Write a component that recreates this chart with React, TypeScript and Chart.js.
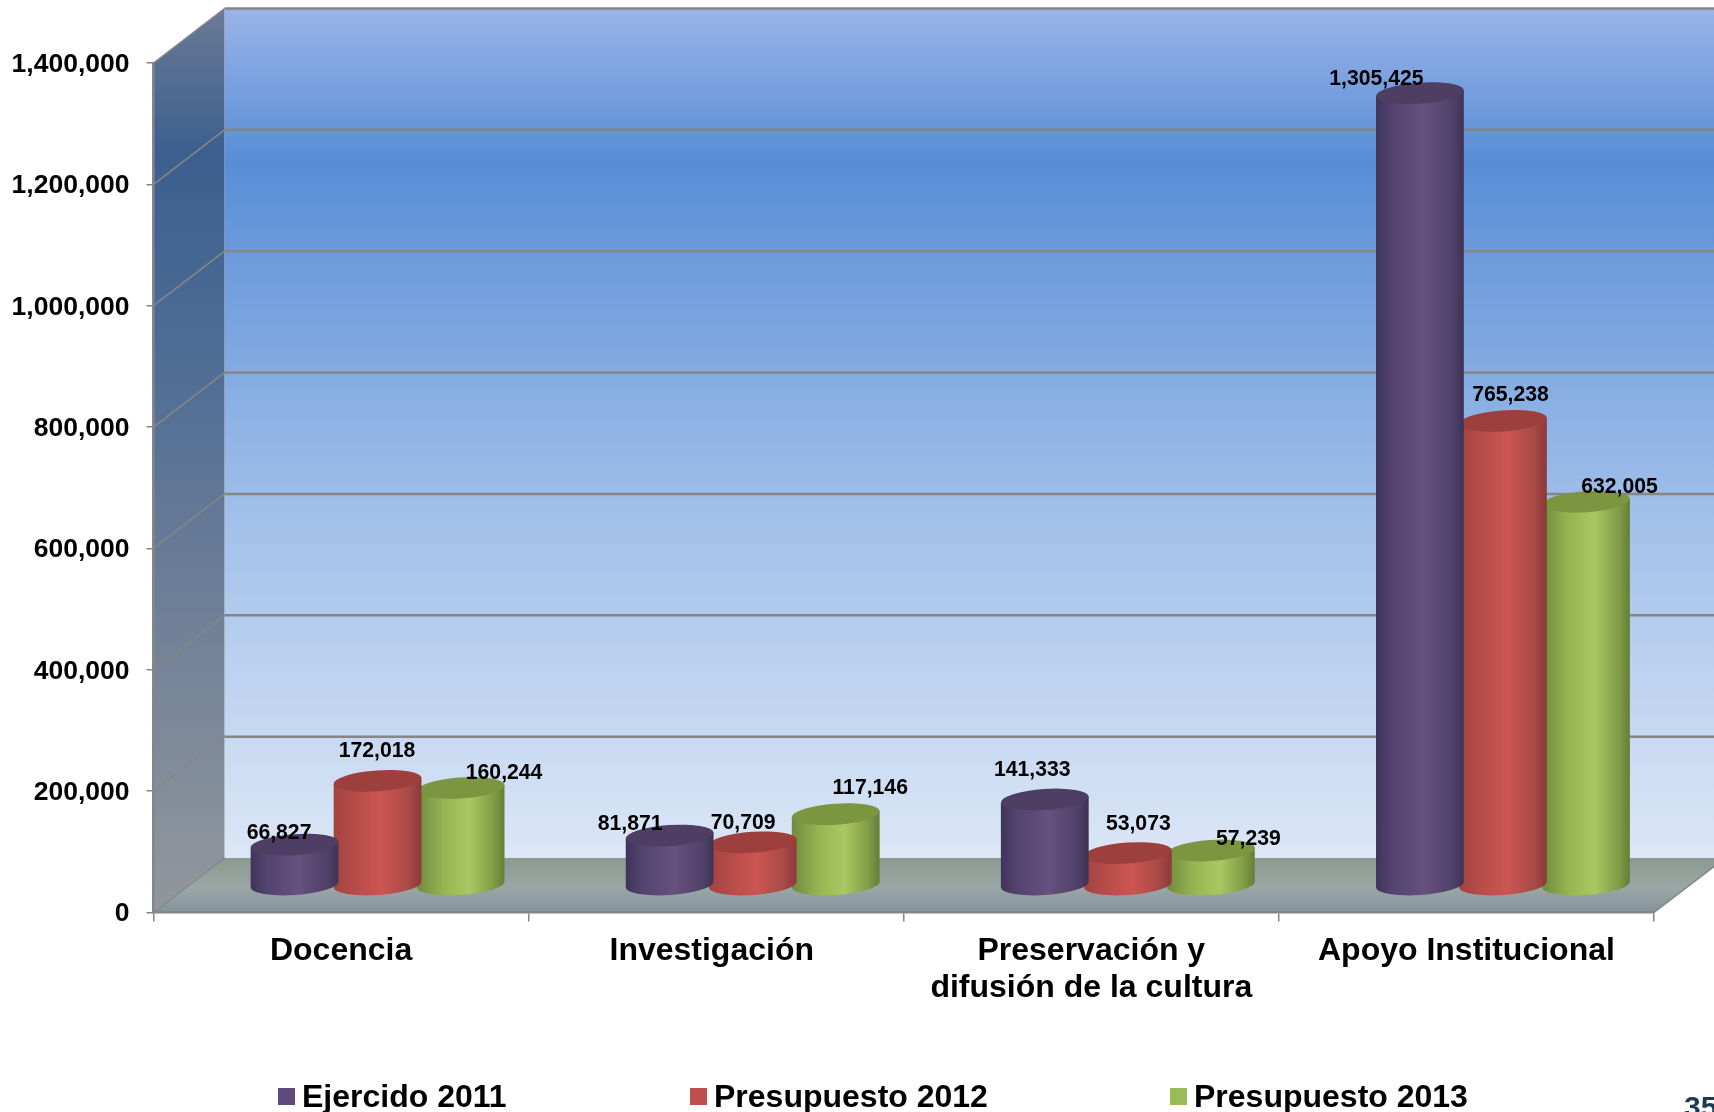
import React, { useEffect, useRef } from "react";
import { Chart, registerables, BarController, BarElement } from "chart.js";

Chart.register(...registerables);

const categories: (string | string[])[] = [
  "Docencia",
  "Investigación",
  ["Preservación y", "difusión de la cultura"],
  "Apoyo Institucional",
];
const ejercido2011 = [66827, 81871, 141333, 1305425];
const presupuesto2012 = [172018, 70709, 53073, 765238];
const presupuesto2013 = [160244, 117146, 57239, 632005];
const seriesLabels = ["Ejercido 2011", "Presupuesto 2012", "Presupuesto 2013"];
const seriesColors = ["#604a7b", "#c0504d", "#9bbb59"];
const yTickStep = 200000;
const yMax = 1400000;
const pageNumber = "35";

// label nudges (style, not data), relative to the top centre of each cylinder
const labelNudges = [
  [[-15.5, -12], [-39.5, -11], [-12.5, -29], [-43.5, -14]],
  [[-0.5, -30], [-9.5, -19], [10.5, -29], [7.5, -26]],
  [[43.5, -15], [34.5, -26], [37.5, -11], [33.5, -15]],
];

const FONT = '"Liberation Sans", Arial, sans-serif';
const DEPTH_X = 71;
const DEPTH_Y = 54.5;
const MID_X = DEPTH_X / 2 + 1;
const MID_Y = DEPTH_Y / 2;
const LINE = "#868686";

const cylStyles: Record<string, { stops: [number, string][]; top: string }> = {
  "#604a7b": {
    stops: [[0, "#40345a"], [0.18, "#53436f"], [0.55, "#66517f"], [0.88, "#4f4069"], [1, "#3e3254"]],
    top: "#4e3e63",
  },
  "#c0504d": {
    stops: [[0, "#a24341"], [0.3, "#bb4e4b"], [0.55, "#cc5552"], [0.85, "#a94a47"], [1, "#8b3a38"]],
    top: "#9d403d",
  },
  "#9bbb59": {
    stops: [[0, "#6f8a3e"], [0.3, "#95b553"], [0.6, "#a8c961"], [0.88, "#809b46"], [1, "#647e38"]],
    top: "#7b9541",
  },
};

class CylinderElement extends (BarElement as any) {
  static id = "cylinderBar";
  draw(ctx: CanvasRenderingContext2D) {
    const { x, y, base, width } = (this as any).getProps(["x", "y", "base", "width"]);
    const style = cylStyles[(this as any).options.backgroundColor] || cylStyles["#604a7b"];
    const cx = x + MID_X;
    const topY = y - MID_Y;
    const botY = base - MID_Y;
    const rx = width * 0.53;
    const ry = 10.5;
    const rot = -0.07;
    const ex = rx * Math.cos(rot);
    const ey = rx * Math.sin(rot);
    const grad = ctx.createLinearGradient(cx - ex, 0, cx + ex, 0);
    style.stops.forEach(([o, c]) => grad.addColorStop(o, c));
    ctx.save();
    ctx.beginPath();
    ctx.moveTo(cx - ex, topY - ey);
    ctx.lineTo(cx - ex, botY - ey);
    ctx.ellipse(cx, botY, rx, ry, rot, Math.PI, 0, true);
    ctx.lineTo(cx + ex, topY + ey);
    ctx.closePath();
    ctx.fillStyle = grad;
    ctx.fill();
    ctx.beginPath();
    ctx.ellipse(cx, topY, rx, ry, rot, 0, Math.PI * 2);
    ctx.fillStyle = style.top;
    ctx.fill();
    ctx.restore();
  }
}

class CylinderController extends (BarController as any) {
  static id = "cylinder";
  static defaults = { ...(BarController as any).defaults, dataElementType: "cylinderBar" };
  static overrides = (BarController as any).overrides;
}

Chart.register(CylinderElement as any, CylinderController as any);

const wallsPlugin = {
  id: "walls",
  beforeDraw(chart: any) {
    const { ctx, chartArea: a, scales } = chart;
    const W = chart.width;
    const yScale = scales.y;
    const backL = a.left + DEPTH_X;
    const backTop = a.top - DEPTH_Y;
    const backBot = a.bottom - DEPTH_Y;
    ctx.save();

    const wall = ctx.createLinearGradient(0, backTop, 0, backBot);
    wall.addColorStop(0, "#9ab4e8");
    wall.addColorStop(0.18, "#588dd6");
    wall.addColorStop(0.6, "#a2c0ea");
    wall.addColorStop(1, "#dce7f6");
    ctx.fillStyle = wall;
    ctx.fillRect(backL, backTop, W - backL, backBot - backTop);

    const side = ctx.createLinearGradient(0, backTop, 0, a.bottom);
    side.addColorStop(0, "#6a7a96");
    side.addColorStop(0.16, "#3c5f8f");
    side.addColorStop(0.38, "#4e6c95");
    side.addColorStop(0.6, "#677b96");
    side.addColorStop(0.88, "#858f9b");
    side.addColorStop(1, "#93979c");
    ctx.fillStyle = side;
    ctx.beginPath();
    ctx.moveTo(a.left, a.top);
    ctx.lineTo(backL, backTop);
    ctx.lineTo(backL, backBot);
    ctx.lineTo(a.left, a.bottom);
    ctx.closePath();
    ctx.fill();

    const floor = ctx.createLinearGradient(0, backBot, 0, a.bottom);
    floor.addColorStop(0, "#8c9a8f");
    floor.addColorStop(0.55, "#9aa7a7");
    floor.addColorStop(1, "#84929c");
    ctx.fillStyle = floor;
    ctx.beginPath();
    ctx.moveTo(a.left, a.bottom);
    ctx.lineTo(backL, backBot);
    ctx.lineTo(a.right + DEPTH_X, backBot);
    ctx.lineTo(a.right, a.bottom);
    ctx.closePath();
    ctx.fill();

    ctx.strokeStyle = LINE;
    yScale.ticks.forEach((t: any) => {
      const py = yScale.getPixelForValue(t.value);
      if (t.value !== 0) {
        ctx.lineWidth = 2.5;
        ctx.beginPath();
        ctx.moveTo(backL, py - DEPTH_Y);
        ctx.lineTo(W, py - DEPTH_Y);
        ctx.stroke();
      }
      ctx.lineWidth = 1.5;
      ctx.beginPath();
      ctx.moveTo(a.left, py);
      ctx.lineTo(backL, py - DEPTH_Y);
      ctx.stroke();
    });

    ctx.lineWidth = 1.5;
    ctx.beginPath();
    ctx.moveTo(a.right, a.bottom);
    ctx.lineTo(a.right + DEPTH_X, backBot);
    ctx.stroke();
    ctx.restore();
  },
};

const overlayPlugin = {
  id: "overlay",
  afterDatasetsDraw(chart: any) {
    const { ctx } = chart;
    ctx.save();
    ctx.font = `bold 21.2px ${FONT}`;
    ctx.fillStyle = "#000";
    ctx.textAlign = "center";
    ctx.textBaseline = "middle";
    chart.data.datasets.forEach((ds: any, i: number) => {
      chart.getDatasetMeta(i).data.forEach((el: any, j: number) => {
        const [nx, ny] = labelNudges[i][j];
        ctx.fillText(
          Number(ds.data[j]).toLocaleString("en-US"),
          el.x + MID_X + nx,
          el.y - MID_Y + ny
        );
      });
    });
    ctx.restore();
  },
  afterDraw(chart: any) {
    const { ctx } = chart;
    ctx.save();
    const boxX = [278, 690, 1170];
    ctx.font = `bold 32px ${FONT}`;
    ctx.textAlign = "left";
    ctx.textBaseline = "alphabetic";
    chart.data.datasets.forEach((ds: any, i: number) => {
      ctx.fillStyle = ds.backgroundColor;
      ctx.fillRect(boxX[i], 1088, 17, 17);
      ctx.fillStyle = "#000";
      ctx.fillText(ds.label, boxX[i] + 24, 1107);
    });
    ctx.font = `bold 30px ${FONT}`;
    ctx.fillStyle = "#1f3a4d";
    ctx.fillText(pageNumber, 1684, 1117);
    ctx.restore();
  },
};

export default function App() {
  const ref = useRef<HTMLCanvasElement>(null);
  useEffect(() => {
    const seriesValues = [ejercido2011, presupuesto2012, presupuesto2013];
    const chart = new Chart(ref.current as HTMLCanvasElement, {
      type: "cylinder" as any,
      data: {
        labels: categories as any,
        datasets: seriesLabels.map((label, i) => ({
          label,
          data: seriesValues[i],
          backgroundColor: seriesColors[i],
          borderWidth: 0,
          categoryPercentage: 0.664,
          barPercentage: 1,
          clip: false,
        })) as any,
      },
      options: {
        responsive: false,
        animation: false,
        devicePixelRatio: 1,
        layout: { padding: { top: 63, right: 60, left: 0, bottom: 0 } },
        plugins: { legend: { display: false }, title: { display: false }, tooltip: { enabled: false } },
        scales: {
          x: {
            type: "category",
            offset: true,
            afterFit: (s: any) => { s.height = 199.5; },
            grid: {
              offset: true,
              drawOnChartArea: false,
              drawTicks: true,
              tickLength: 9,
              color: LINE,
              lineWidth: 1.5,
            },
            border: { display: true, color: LINE, width: 2.5 },
            ticks: {
              color: "#000",
              padding: 11.5,
              maxRotation: 0,
              autoSkip: false,
              font: { family: FONT, weight: "bold", size: 32, lineHeight: 1.15 },
              // the reference sits this one label a little left of its slot
              callback(this: any, v: any, i: number) {
                const label = this.getLabelForValue(v);
                return i === 1 ? `${label} ` : categories[i];
              },
            },
          },
          y: {
            type: "linear",
            min: 0,
            max: yMax,
            afterFit: (s: any) => { s.width = 153.5; },
            grid: {
              drawOnChartArea: false,
              drawTicks: true,
              tickLength: 7,
              color: LINE,
              lineWidth: 1.5,
            },
            border: { display: true, color: LINE, width: 2.5 },
            ticks: {
              stepSize: yTickStep,
              color: "#000",
              padding: 17,
              labelOffset: 1.5,
              font: { family: FONT, weight: "bold", size: 26.5 },
              callback: (v: any) => Number(v).toLocaleString("en-US"),
            },
          },
        },
      } as any,
      plugins: [wallsPlugin, overlayPlugin] as any,
    });
    return () => chart.destroy();
  }, []);
  return (
    <canvas
      ref={ref}
      width={1714}
      height={1112}
      style={{ position: "absolute", left: 0, top: 0, display: "block", width: 1714, height: 1112 }}
    />
  );
}
